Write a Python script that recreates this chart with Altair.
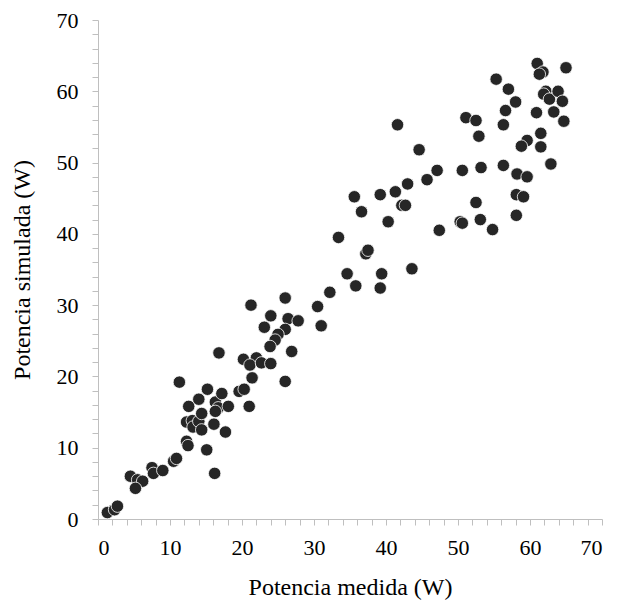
import altair as alt
import pandas as pd

medida = [1.3, 2.3, 2.7, 4.5, 5.5, 6.2, 5.2, 7.5, 7.7, 9.0,
          10.5, 10.9, 11.3, 12.3, 12.5, 12.6, 12.3, 13.1, 13.2, 14.0,
          14.0, 14.4, 14.4, 15.2, 15.1, 16.2, 16.1, 16.3, 16.7, 16.3,
          17.2, 18.1, 17.7, 19.6, 20.3, 21.0, 21.4, 26.0, 21.25, 26.0,
          24.0, 23.1, 26.4, 27.8, 26.0, 25.0, 24.6, 23.9, 26.9, 16.8,
          20.2, 22.0, 21.1, 22.7, 24.0, 30.5, 31.0, 32.2, 34.6, 35.8,
          37.2, 37.5, 39.4, 39.2, 41.6, 44.6, 51.1, 52.5, 52.9, 47.1,
          45.7, 43.0, 41.3, 39.2, 35.6, 36.6, 42.2, 42.7, 40.3, 33.4,
          43.6, 50.6, 53.2, 52.5, 50.3, 50.6, 53.1, 54.8, 47.4, 61.0,
          61.8, 61.3, 65.0, 55.3, 57.0, 62.2, 61.9, 62.7, 63.9, 64.5,
          58.0, 56.6, 60.9, 63.3, 64.7, 56.3, 61.5, 59.6, 58.8, 61.5,
          62.9, 56.3, 58.2, 59.6, 58.1, 59.1, 58.1]
simulada = [0.9, 1.3, 1.8, 6.0, 5.5, 5.3, 4.3, 7.2, 6.4, 6.8,
            8.1, 8.5, 19.2, 10.9, 10.3, 15.8, 13.6, 13.8, 12.9, 13.7,
            16.8, 14.8, 12.5, 18.2, 9.7, 6.4, 13.3, 16.4, 15.6, 15.1,
            17.6, 15.8, 12.2, 17.9, 18.2, 15.8, 19.8, 19.3, 30.0, 31.0,
            28.5, 26.9, 28.1, 27.8, 26.6, 25.9, 25.1, 24.2, 23.5, 23.3,
            22.4, 22.6, 21.6, 21.9, 21.8, 29.8, 27.1, 31.8, 34.4, 32.7,
            37.2, 37.7, 34.4, 32.4, 55.3, 51.8, 56.3, 55.9, 53.7, 48.9,
            47.6, 47.0, 45.9, 45.5, 45.2, 43.1, 44.0, 44.0, 41.7, 39.5,
            35.1, 48.9, 49.3, 44.4, 41.7, 41.5, 42.0, 40.6, 40.5, 63.9,
            62.7, 62.4, 63.3, 61.7, 60.3, 60.0, 59.6, 58.9, 60.0, 58.6,
            58.5, 57.3, 57.0, 57.1, 55.8, 55.3, 54.1, 53.1, 52.3, 52.2,
            49.8, 49.6, 48.4, 48.0, 45.5, 45.2, 42.6]

tick_values = list(range(0, 71, 2))

df = pd.DataFrame({"medida": medida, "simulada": simulada})

font = "Liberation Serif"

axis_common = dict(
    values=tick_values,
    labelExpr="datum.value % 10 == 0 ? datum.label : ''",
    grid=False,
    domainColor="#bfbfbf",
    tickColor="#bfbfbf",
    tickSize=6,
    labelFont=font,
    labelFontSize=22,
    labelColor="#000000",
    titleFont=font,
    titleFontSize=24,
    titleFontWeight="normal",
    titleColor="#000000",
)

chart = alt.Chart(df).mark_circle(
    size=155, color="#262626", opacity=1, stroke="#ffffff", strokeWidth=0.8
).encode(
    x=alt.X("medida:Q", scale=alt.Scale(domain=[0, 70], nice=False),
            axis=alt.Axis(title="Potencia medida (W)", labelPadding=12,
                          titlePadding=17, **axis_common)),
    y=alt.Y("simulada:Q", scale=alt.Scale(domain=[0, 70], nice=False),
            axis=alt.Axis(title="Potencia simulada (W)", labelPadding=14,
                          titlePadding=22, **axis_common)),
).properties(
    width=504, height=499,
    autosize=alt.AutoSizeParams(type="none"),
    padding={"left": 90, "top": 12, "right": 10, "bottom": 82},
).configure_view(stroke=None)

chart.save("out.html", embed_options={"renderer": "svg", "actions": False})
